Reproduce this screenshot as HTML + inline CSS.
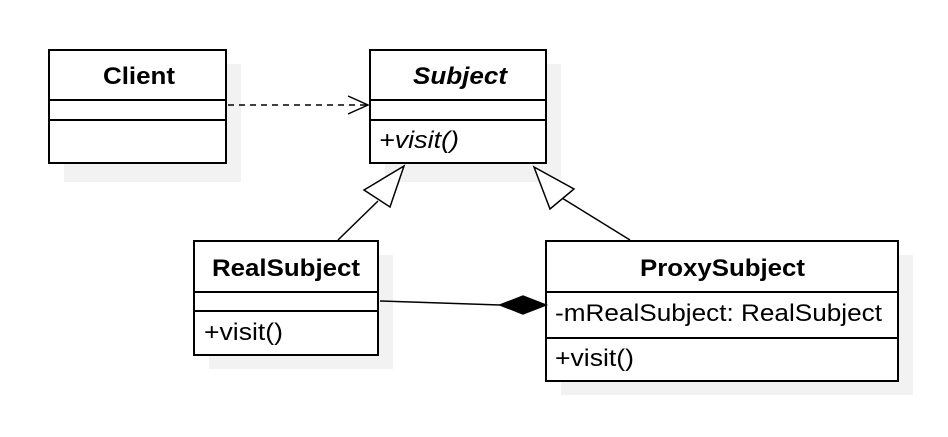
<!DOCTYPE html>
<html><head><style>
body{margin:0;background:#fff;width:948px;height:432px;overflow:hidden}
</style></head><body>
<svg width="948" height="432" xmlns="http://www.w3.org/2000/svg" font-family="Liberation Sans, sans-serif" font-size="24">
<g fill="#f2f2f2">
<rect x="64" y="64" width="177" height="118"/>
<rect x="385" y="64" width="176" height="118"/>
<rect x="209" y="255" width="184" height="114"/>
<rect x="561" y="255" width="352" height="140"/>
</g>
<g fill="#fff" stroke="#000" stroke-width="2">
<rect x="49" y="50" width="177" height="113"/>
<rect x="370" y="50" width="176" height="113"/>
<rect x="194" y="241" width="184" height="114"/>
<rect x="546" y="241" width="352" height="140"/>
</g>
<g stroke="#000" stroke-width="2">
<line x1="49" y1="100" x2="226" y2="100"/><line x1="49" y1="120" x2="226" y2="120"/>
<line x1="370" y1="100" x2="546" y2="100"/><line x1="370" y1="120" x2="546" y2="120"/>
<line x1="194" y1="292" x2="378" y2="292"/><line x1="194" y1="311" x2="378" y2="311"/>
<line x1="546" y1="292" x2="898" y2="292"/><line x1="546" y1="338" x2="898" y2="338"/>
</g>
<g font-weight="bold">
<text x="103" y="84" textLength="72" lengthAdjust="spacingAndGlyphs">Client</text>
<text x="413" y="84" font-style="italic" textLength="94" lengthAdjust="spacingAndGlyphs">Subject</text>
<text x="212" y="276" textLength="148" lengthAdjust="spacingAndGlyphs">RealSubject</text>
<text x="640" y="276" textLength="165" lengthAdjust="spacingAndGlyphs">ProxySubject</text>
</g>
<text x="379" y="148" font-style="italic" textLength="80" lengthAdjust="spacingAndGlyphs">+visit()</text>
<text x="204" y="340" textLength="79" lengthAdjust="spacingAndGlyphs">+visit()</text>
<text x="555" y="321" textLength="327" lengthAdjust="spacingAndGlyphs">-mRealSubject: RealSubject</text>
<text x="555" y="366" textLength="79" lengthAdjust="spacingAndGlyphs">+visit()</text>
<g stroke="#000" stroke-width="1.5" fill="none">
<line x1="228" y1="105" x2="368" y2="105" stroke-dasharray="6,5"/>
<polyline points="348,96 368,105 348,114"/>
<line x1="338" y1="240" x2="378" y2="201"/>
<polygon points="404,166 364,190 390,207" fill="#fff"/>
<line x1="630" y1="240" x2="562" y2="198"/>
<polygon points="534,167 550,209 574,189" fill="#fff"/>
<line x1="380" y1="301" x2="500" y2="305"/>
<polygon points="500,305 523,296 546,305 523,314" fill="#000"/>
</g>
</svg>
</body></html>
